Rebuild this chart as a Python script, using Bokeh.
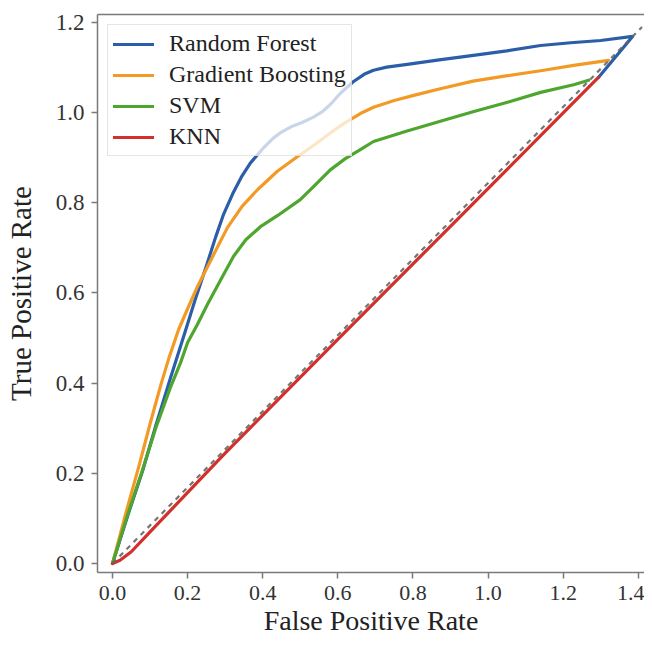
from bokeh.plotting import figure
from bokeh.models import Range1d, FixedTicker, PrintfTickFormatter, LinearAxis, Legend, LegendItem
from bokeh.embed import file_html
from bokeh.resources import INLINE

# ---- data ----
series_names = ["Random Forest", "Gradient Boosting", "SVM", "KNN"]

rf_fpr = [0.0, 0.04, 0.08, 0.115, 0.15, 0.19, 0.22, 0.25, 0.275, 0.296, 0.32, 0.345, 0.367,
          0.40, 0.429, 0.45, 0.474, 0.505, 0.535, 0.56, 0.58, 0.607, 0.64, 0.67, 0.695,
          0.73, 0.785, 0.87, 0.961, 1.05, 1.14, 1.22, 1.30, 1.385, 1.294]
rf_tpr = [0.0, 0.105, 0.205, 0.305, 0.40, 0.505, 0.585, 0.66, 0.725, 0.775, 0.82, 0.86, 0.888,
          0.92, 0.944, 0.957, 0.968, 0.978, 0.99, 1.003, 1.018, 1.043, 1.068, 1.085, 1.094,
          1.101, 1.107, 1.117, 1.127, 1.137, 1.149, 1.155, 1.160, 1.169, 1.078]

gb_fpr = [0.0, 0.035, 0.07, 0.10, 0.13, 0.15, 0.176, 0.20, 0.226, 0.26, 0.306, 0.345, 0.386,
          0.439, 0.492, 0.54, 0.58, 0.62, 0.66, 0.695, 0.75, 0.81, 0.873, 0.96, 1.052,
          1.14, 1.228, 1.321]
gb_tpr = [0.0, 0.11, 0.215, 0.31, 0.40, 0.455, 0.519, 0.565, 0.614, 0.67, 0.745, 0.792, 0.829,
          0.870, 0.902, 0.93, 0.955, 0.978, 0.998, 1.012, 1.027, 1.04, 1.053, 1.07, 1.082,
          1.093, 1.105, 1.116]

svm_fpr = [0.0, 0.037, 0.077, 0.115, 0.154, 0.181, 0.20, 0.226, 0.253, 0.29, 0.322, 0.355,
           0.394, 0.44, 0.50, 0.54, 0.58, 0.62, 0.66, 0.695, 0.78, 0.873, 0.96, 1.052,
           1.14, 1.228, 1.268]
svm_tpr = [0.0, 0.10, 0.20, 0.30, 0.39, 0.445, 0.49, 0.53, 0.575, 0.632, 0.681, 0.718,
           0.747, 0.772, 0.807, 0.84, 0.873, 0.898, 0.918, 0.936, 0.958, 0.981, 1.002, 1.023,
           1.045, 1.062, 1.072]

knn_fpr = [0.0, 0.02, 0.05, 0.10, 0.30, 0.60, 0.90, 1.294]
knn_tpr = [0.0, 0.007, 0.026, 0.07, 0.245, 0.497, 0.748, 1.078]

chance_fpr = [0.0, 1.41]
chance_tpr = [0.0, 1.19]

x_ticks = [0.0, 0.2, 0.4, 0.6, 0.8, 1.0, 1.2, 1.4]
y_ticks = [0.0, 0.2, 0.4, 0.6, 0.8, 1.0, 1.2]

colors = ["#2b5ea8", "#f39a26", "#4ea62e", "#d3302b"]
FONT = "Liberation Serif"
AXIS_COLOR = "#7a7a7a"

p = figure(width=644, height=638,
           x_range=Range1d(-0.04, 1.4167), y_range=Range1d(-0.02, 1.2177),
           output_backend="svg", toolbar_location=None,
           min_border_left=97, min_border_top=14, min_border_right=0)
p.outline_line_color = None
p.grid.visible = False
p.background_fill_color = "white"

LW = 3.2
r_rf = p.line(rf_fpr, rf_tpr, line_color=colors[0], line_width=LW, line_join="round", line_cap="round")
r_gb = p.line(gb_fpr, gb_tpr, line_color=colors[1], line_width=LW, line_join="round", line_cap="round")
r_svm = p.line(svm_fpr, svm_tpr, line_color=colors[2], line_width=LW, line_join="round", line_cap="round")
r_knn = p.line(knn_fpr, knn_tpr, line_color=colors[3], line_width=LW, line_join="round", line_cap="round")
p.line(chance_fpr, chance_tpr, line_color="#666666", line_width=2.2, line_dash="5 5", line_alpha=0.9)

for ax in (p.xaxis[0], p.yaxis[0]):
    ax.axis_line_color = AXIS_COLOR
    ax.axis_line_width = 1.5
    ax.major_tick_line_color = AXIS_COLOR
    ax.major_tick_line_width = 1.5
    ax.major_tick_in = 0
    ax.major_tick_out = 6
    ax.minor_tick_line_color = None
    ax.major_label_text_font = FONT
    ax.major_label_text_color = "#333333"
    ax.axis_label_text_font = FONT
    ax.axis_label_text_font_style = "normal"
    ax.axis_label_text_color = "#222222"
    ax.formatter = PrintfTickFormatter(format="%.1f")

p.xaxis[0].ticker = FixedTicker(ticks=x_ticks)
p.yaxis[0].ticker = FixedTicker(ticks=y_ticks)
p.xaxis[0].axis_label = "False Positive Rate"
p.yaxis[0].axis_label = "True Positive Rate"
p.xaxis[0].major_label_text_font_size = "22px"
p.yaxis[0].major_label_text_font_size = "23px"
p.xaxis[0].axis_label_text_font_size = "28px"
p.yaxis[0].axis_label_text_font_size = "29px"
p.xaxis[0].major_label_standoff = 7
p.yaxis[0].major_label_standoff = 7
p.xaxis[0].axis_label_standoff = 2
p.yaxis[0].axis_label_standoff = 16

top_axis = LinearAxis(ticker=FixedTicker(ticks=[]), major_label_text_font_size="0px",
                      major_tick_in=0, major_tick_out=0, minor_tick_line_color=None,
                      major_label_standoff=0, axis_line_color=AXIS_COLOR, axis_line_width=1.5)
p.add_layout(top_axis, "above")

legend = Legend(items=[LegendItem(label=n, renderers=[r]) for n, r in
                       zip(series_names, [r_rf, r_gb, r_svm, r_knn])],
                location="top_left")
legend.margin = 10
legend.padding = 5
legend.spacing = 4
legend.glyph_width = 41
legend.glyph_height = 24
legend.label_height = 24
legend.label_standoff = 15
legend.label_text_font = FONT
legend.label_text_font_size = "24px"
legend.label_text_color = "#222222"
legend.border_line_color = "#cccccc"
legend.border_line_width = 1
legend.background_fill_color = "white"
legend.background_fill_alpha = 0.75
p.add_layout(legend)

open("out.html", "w").write(file_html(p, INLINE))
